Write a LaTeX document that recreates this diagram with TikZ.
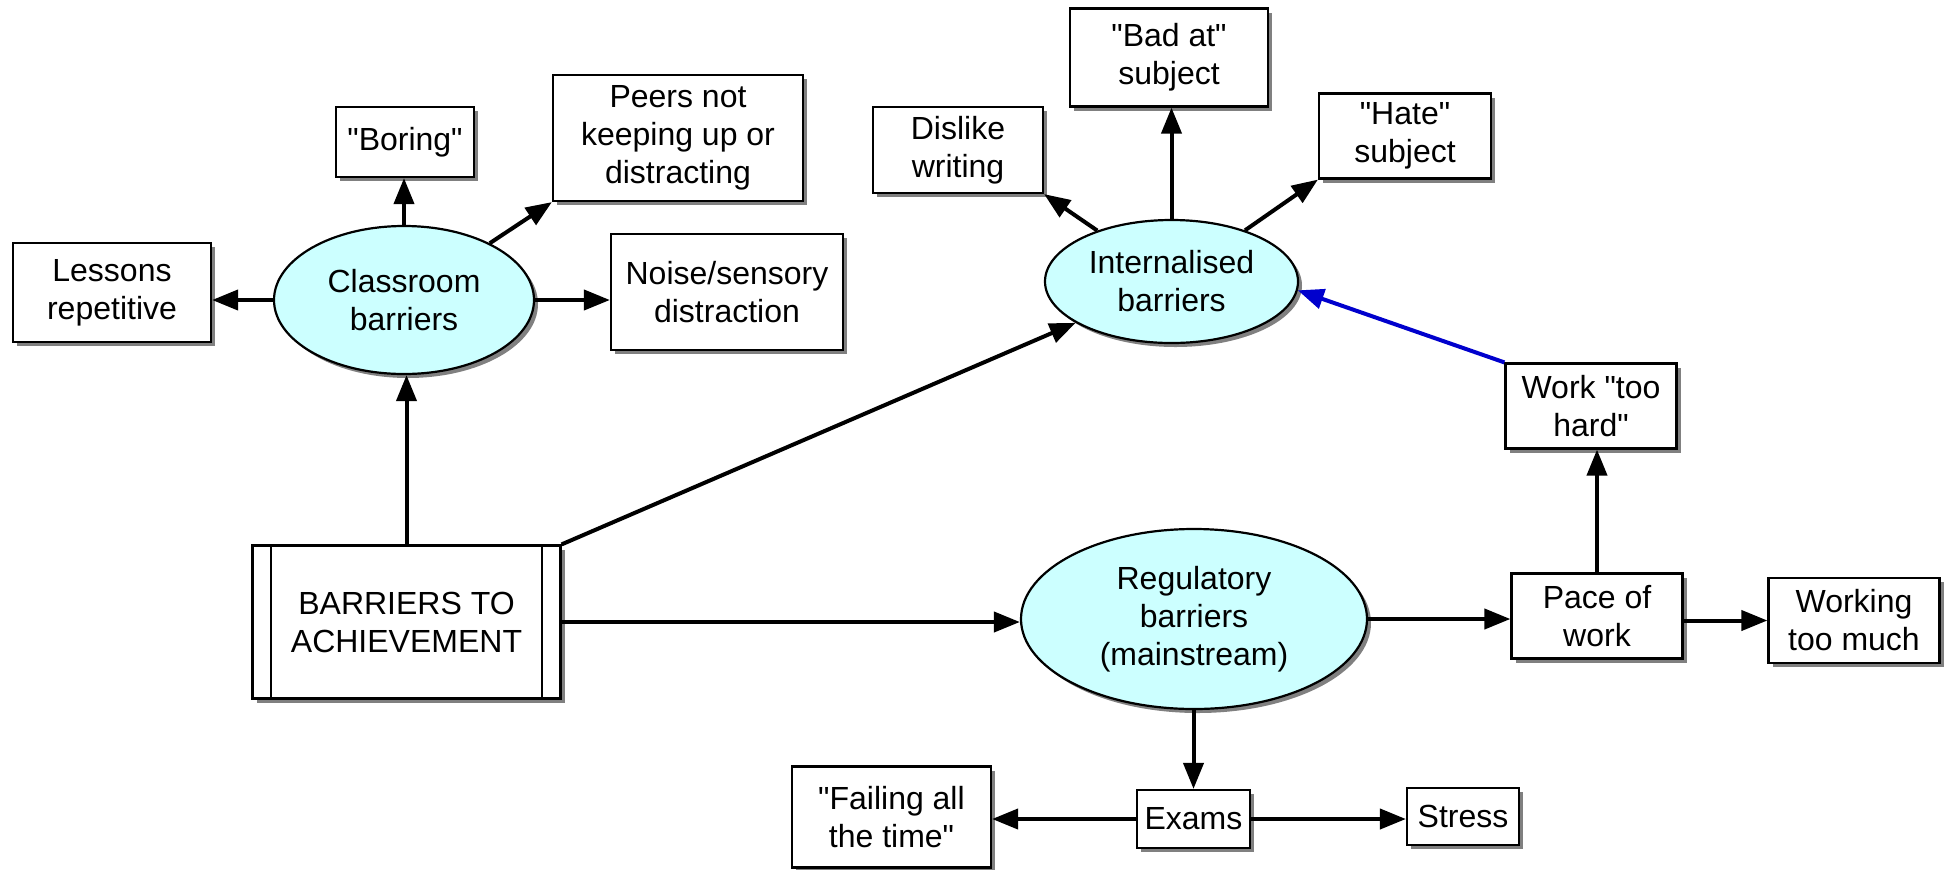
\documentclass[tikz,border=0pt]{standalone}
\usepackage{fontspec}
\setmainfont{Liberation Sans}
\usetikzlibrary{shapes.geometric,shadows,arrows.meta}
\definecolor{bubblefill}{RGB}{204,255,255}
\definecolor{linkblue}{RGB}{0,0,205}
\newcommand{\qq}{\textquotedbl}
\begin{document}
\begin{tikzpicture}[x=0.5pt,y=-0.5pt,
  every node/.style={font=\fontsize{16}{19}\selectfont, align=center, inner sep=0pt},
  dropsh/.style={drop shadow={shadow xshift=2pt,shadow yshift=-2pt,fill=black!50,opacity=1}},
  card/.style={rectangle, draw, line width=1.1pt, fill=white, dropsh},
  blob/.style={ellipse, draw, line width=1.1pt, fill=bubblefill, dropsh},
  arr/.style={line width=2pt, -{Triangle[length=13pt,width=10pt]}},
  bluearr/.style={arr, draw=linkblue, -{Triangle[length=13pt,width=10pt,fill=linkblue]}}
]
\useasboundingbox (0,0) rectangle (1951,869);

% central source node
\node[card, minimum width=154pt, minimum height=76.5pt] (bar) at (406.5,622) {BARRIERS TO\\ACHIEVEMENT};
\draw[line width=1.1pt] ([xshift=9.7pt]bar.north west) -- ([xshift=9.7pt]bar.south west);
\draw[line width=1.1pt] ([xshift=-9.7pt]bar.north east) -- ([xshift=-9.7pt]bar.south east);

% classroom barriers
\node[blob, minimum width=130pt, minimum height=74pt] (cl) at (404,300) {Classroom\\barriers};
\node[card, minimum width=69pt, minimum height=35pt] (bor) at (405,142) {\qq Boring\qq};
\node[card, minimum width=125pt, minimum height=63pt] (peer) at (678,138) {Peers not\\keeping up or\\distracting};
\node[card, minimum width=99pt, minimum height=49.5pt] (les) at (112,292.5) {Lessons\\repetitive};
\node[card, minimum width=116pt, minimum height=58pt] (noi) at (727,292) {Noise/sensory\\distraction};

% internalised barriers
\node[blob, minimum width=126.5pt, minimum height=61.5pt] (int) at (1171.5,281.5) {Internalised\\barriers};
\node[card, minimum width=85pt, minimum height=43pt] (dis) at (958,150) {Dislike\\writing};
\node[card, minimum width=99pt, minimum height=49pt] (bad) at (1169,57.5) {\qq Bad at\qq\\subject};
\node[card, minimum width=86pt, minimum height=42.5pt] (hat) at (1405,136) {\qq Hate\qq\\subject};
\node[card, minimum width=85.5pt, minimum height=42.5pt] (wt) at (1591,406) {Work \qq too\\hard\qq};

% regulatory barriers
\node[blob, minimum width=173pt, minimum height=90pt] (reg) at (1194,619) {Regulatory\\barriers\\(mainstream)};
\node[card, minimum width=85.5pt, minimum height=42.5pt] (pac) at (1597,616) {Pace of\\work};
\node[card, minimum width=85.5pt, minimum height=42.5pt] (wk) at (1854,620.5) {Working\\too much};
\node[card, minimum width=56.5pt, minimum height=29pt] (ex) at (1193.5,819) {Exams};
\node[card, minimum width=99.5pt, minimum height=50.5pt] (fai) at (891.5,817) {\qq Failing all\\the time\qq};
\node[card, minimum width=56pt, minimum height=28.5pt] (st) at (1463,816.5) {Stress};

% connectors from the source
\draw[arr] (bar.north) -- (bar.north |- cl.south);
\draw[arr] (bar.north east) -- (int);
\draw[arr] (bar.east) -- (bar.east -| reg.west);

% classroom branch
\draw[arr] (cl.north) -- (cl.north |- bor.south);
\draw[arr] (cl) -- (peer.south west);
\draw[arr] (cl.west) -- (cl.west -| les.east);
\draw[arr] (cl.east) -- (cl.east -| noi.west);

% internalised branch
\draw[arr] (int) -- (dis.south east);
\draw[arr] (int.north) -- (int.north |- bad.south);
\draw[arr] (int) -- (hat.south west);
\draw[bluearr] (wt.north west) -- (int.-4);

% regulatory branch
\draw[arr] (reg.east) -- (reg.east -| pac.west);
\draw[arr] (pac.north) -- (pac.north |- wt.south);
\draw[arr] (pac.east |- wk.west) -- (wk.west);
\draw[arr] (reg.south) -- (reg.south -| ex.north) -- (ex.north);
\draw[arr] (ex.west) -- (ex.west -| fai.east);
\draw[arr] (ex.east) -- (ex.east -| st.west);
\end{tikzpicture}
\end{document}
